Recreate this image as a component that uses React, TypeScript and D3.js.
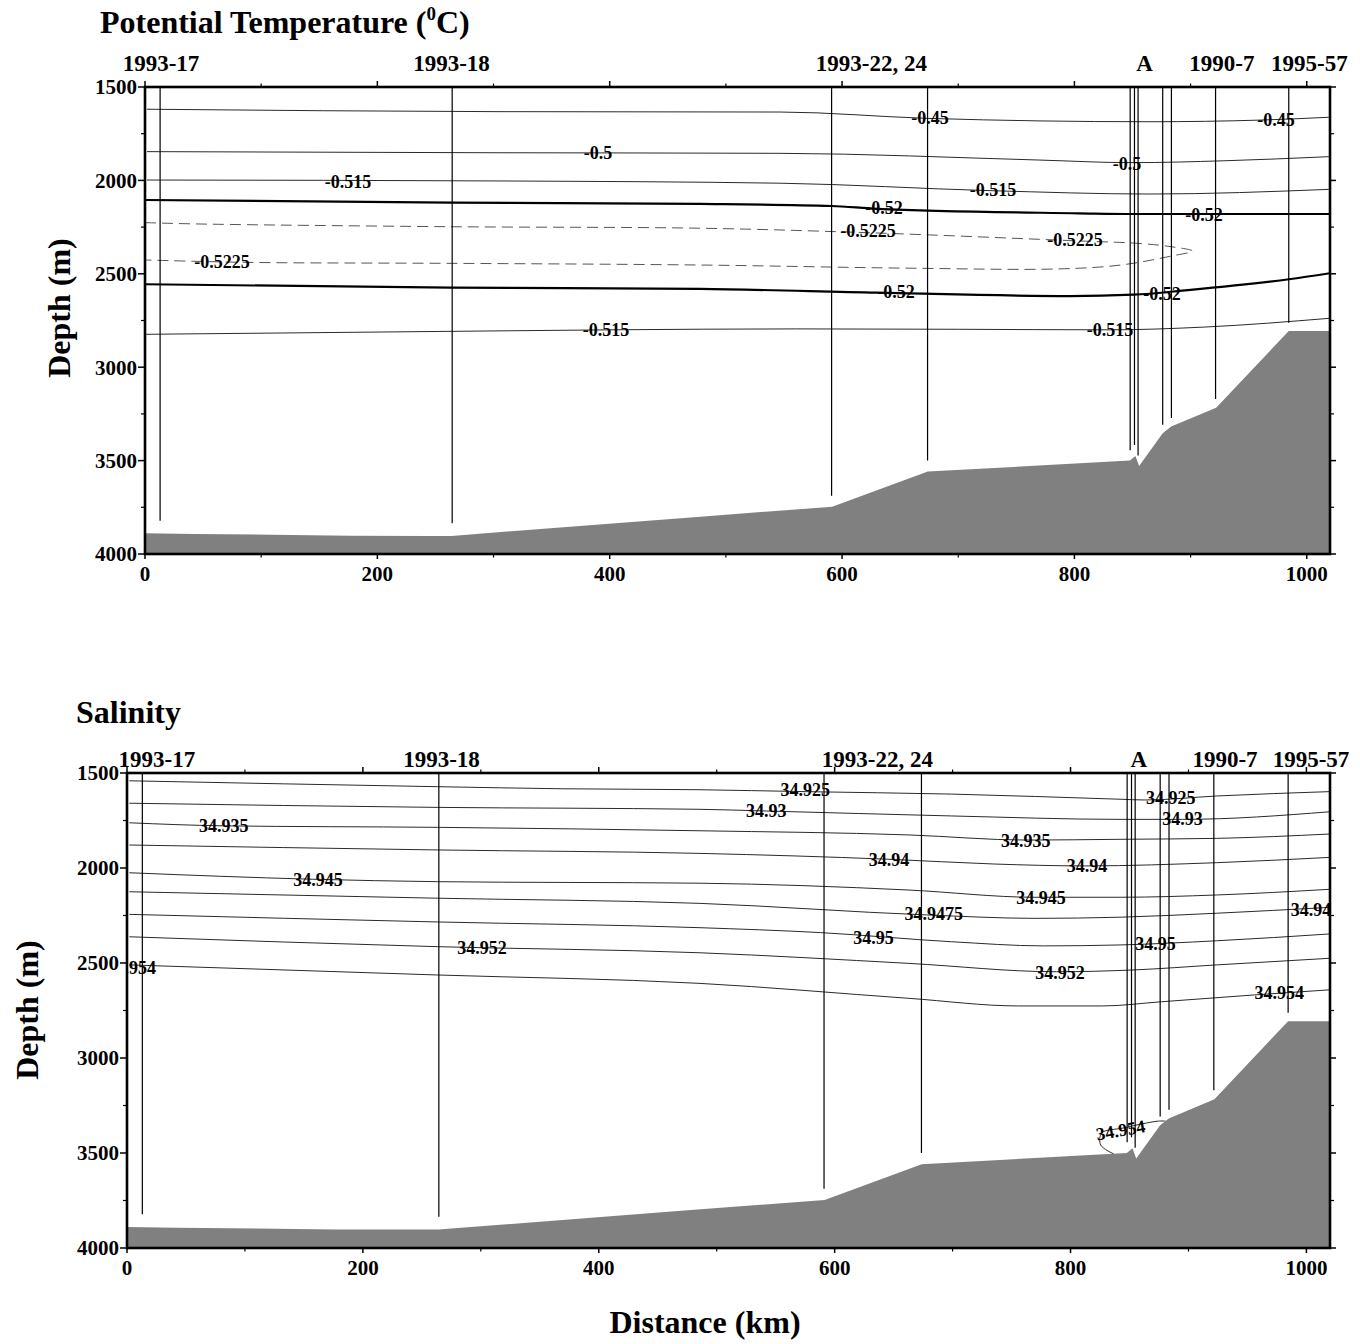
import React from "react";
import * as d3 from "d3";

type Pt = [number, number];

// ---------- shared section data ----------
const stationKm = [13, 264.4, 591, 673.6, 848, 851.7, 854.8, 876, 883.5, 921.5, 984.5];
const stationEnd = [3822, 3835, 3688, 3500, 3444, 3417, 3473, 3308, 3272, 3170, 2762];

const bathyKm = [0, 42, 109, 177, 244, 264, 478, 591.5, 673.8, 847.8, 852.5, 855.7, 876, 883.3, 922, 984.5, 1020];
const bathyDepth = [3889, 3893, 3897, 3902, 3903, 3903, 3800, 3747, 3559, 3500, 3475, 3529, 3354, 3318, 3217, 2806, 2806];

const stationNames = ["1993-17", "1993-18", "1993-22, 24", "A", "1990-7", "1995-57"];
const topNameKm = [13.8, 263.8, 625.3, 860.3, 927, 1002.3];
const botNameKm = [25.4, 266.7, 636.3, 858, 931, 1003.9];

const kmMajor = [0, 200, 400, 600, 800, 1000];
const kmMinor = [100, 300, 500, 700, 900];
const depthMajor = [1500, 2000, 2500, 3000, 3500, 4000];
const depthMinor = [1750, 2250, 2750, 3250, 3750];

// ---------- potential temperature contours ----------
const th045: Pt[] = [[1.7, 1619], [305.6, 1632], [546.6, 1634], [674, 1668], [865, 1686], [960.6, 1677], [1019, 1662]];
const th05: Pt[] = [[1.7, 1846], [305.6, 1852], [546.6, 1855], [769.5, 1891], [848.7, 1905], [928.7, 1895], [1019, 1873]];
const th0515a: Pt[] = [[1.7, 1998], [305.6, 2003], [546.6, 2015], [728.2, 2055], [865, 2073], [1019, 2048]];
const th052a: Pt[] = [[0, 2105], [263.4, 2119], [477.7, 2126], [591, 2137], [629.9, 2152], [803.7, 2176], [850.8, 2180], [1020, 2180]];
const th05225: Pt[] = [[0, 2226], [43.9, 2233], [263.4, 2248], [477.7, 2256], [622.3, 2280], [803.7, 2324], [854.4, 2337], [883.4, 2355], [901.5, 2378], [883.4, 2405], [840, 2453], [785.6, 2474], [658.4, 2470], [477.7, 2453], [263.4, 2444], [90.4, 2439], [0, 2426]];
const th052b: Pt[] = [[0, 2556], [263.4, 2574], [477.7, 2581], [629.9, 2601], [796.3, 2619], [850.8, 2612], [897.7, 2587], [984.7, 2529], [1020, 2497]];
const th0515b: Pt[] = [[0, 2824], [263.4, 2808], [400, 2800], [560, 2795], [700, 2797], [830, 2800], [912.4, 2785], [1020, 2738]];

const thetaLabels = [
  { t: "-0.45", km: 675.7, d: 1666 }, { t: "-0.45", km: 973.5, d: 1677 },
  { t: "-0.5", km: 389.9, d: 1853 }, { t: "-0.5", km: 845.2, d: 1912 },
  { t: "-0.515", km: 174.7, d: 2009 }, { t: "-0.515", km: 729.9, d: 2051 },
  { t: "-0.515", km: 396.8, d: 2801 }, { t: "-0.515", km: 830.6, d: 2801 },
  { t: "-0.52", km: 636.1, d: 2148 }, { t: "-0.52", km: 911.5, d: 2185 },
  { t: "-0.52", km: 646.4, d: 2597 }, { t: "-0.52", km: 875.4, d: 2608 },
  { t: "-0.5225", km: 66.3, d: 2437 }, { t: "-0.5225", km: 622.3, d: 2271 }, { t: "-0.5225", km: 800.5, d: 2319 },
];

// ---------- salinity contours ----------
const s34925: Pt[] = [[2, 1541], [263, 1572], [369, 1583], [485, 1588], [574, 1598], [699, 1611], [842, 1638], [863, 1642], [924, 1621], [1020, 1598]];
const s3493: Pt[] = [[2, 1659], [263, 1681], [485, 1691], [542, 1700], [699, 1726], [842, 1744], [895, 1744], [1020, 1704]];
const s34935: Pt[] = [[2, 1762], [81, 1778], [263, 1786], [485, 1804], [663, 1826], [763, 1853], [842, 1849], [924, 1844], [1020, 1821]];
const s3494: Pt[] = [[2, 1879], [263, 1905], [485, 1923], [646, 1954], [735, 1979], [813, 1989], [924, 1972], [1020, 1944]];
const s34945: Pt[] = [[2, 2025], [157, 2059], [263, 2072], [485, 2080], [663, 2116], [770, 2154], [842, 2154], [924, 2142], [1020, 2112]];
const s349475: Pt[] = [[2, 2125], [263, 2159], [485, 2186], [678, 2247], [770, 2265], [842, 2259], [924, 2238], [1020, 2207]];
const s3495: Pt[] = [[2, 2244], [263, 2284], [485, 2314], [588, 2340], [699, 2388], [777, 2410], [842, 2405], [924, 2383], [1020, 2347]];
const s34952: Pt[] = [[2, 2362], [263, 2414], [485, 2446], [663, 2502], [788, 2546], [852, 2537], [924, 2510], [1020, 2475]];
const s34954: Pt[] = [[2, 2510], [263, 2563], [485, 2607], [663, 2686], [756, 2726], [827, 2726], [877, 2704], [956, 2668], [1020, 2641]];
const s34954b: Pt[] = [[836.6, 3505], [825.6, 3458], [826.4, 3395], [845, 3368], [864.5, 3342], [874.7, 3332], [880.6, 3332]];

const salLabels = [
  { t: "34.925", km: 575, d: 1589 }, { t: "34.925", km: 885, d: 1632 },
  { t: "34.93", km: 542, d: 1700 }, { t: "34.93", km: 895, d: 1743 },
  { t: "34.935", km: 82, d: 1779 }, { t: "34.935", km: 762, d: 1858 },
  { t: "34.94", km: 646, d: 1958 }, { t: "34.94", km: 814, d: 1989 },
  { t: "34.945", km: 162, d: 2063 }, { t: "34.945", km: 775, d: 2155 },
  { t: "34.9475", km: 684, d: 2242 }, { t: "34.9475", km: 1011.5, d: 2221 },
  { t: "34.95", km: 633, d: 2366 }, { t: "34.95", km: 872, d: 2397 },
  { t: "34.952", km: 301, d: 2421 }, { t: "34.952", km: 791, d: 2553 },
  { t: "34.954", km: 3.6, d: 2526 }, { t: "34.954", km: 977, d: 2658 },
  { t: "34.954", km: 842.5, d: 3379, a: -10 },
];

const FONT = "'Liberation Serif', 'Times New Roman', Times, serif";

type Contour = { pts: Pt[]; kind: "thin" | "thick" | "dash"; loop?: boolean };

const thetaContours: Contour[] = [
  { pts: th045, kind: "thin" }, { pts: th05, kind: "thin" }, { pts: th0515a, kind: "thin" },
  { pts: th052a, kind: "thick" }, { pts: th05225, kind: "dash", loop: true }, { pts: th052b, kind: "thick" },
  { pts: th0515b, kind: "thin" },
];
const salContours: Contour[] = [
  ...[s34925, s3493, s34935, s3494, s34945, s349475, s3495, s34952, s34954].map((p) => ({ pts: p, kind: "thin" as const })),
  { pts: s34954b, kind: "thin", loop: true },
];

function Panel(props: {
  id: string; x0: number; x1: number; y0: number; y1: number;
  contours: Contour[]; labels: { t: string; km: number; d: number; a?: number }[];
  nameKm: number[]; nameGap: number;
}) {
  const { id, x0, x1, y0, y1, contours, labels, nameKm, nameGap } = props;
  const xs = d3.scaleLinear().domain([0, 1020]).range([x0, x1]);
  const ys = d3.scaleLinear().domain([1500, 4000]).range([y0, y1]);
  const lineOpen = d3.line<Pt>().x((d) => xs(d[0])).y((d) => ys(d[1])).curve(d3.curveMonotoneX);
  const lineLoop = d3.line<Pt>().x((d) => xs(d[0])).y((d) => ys(d[1])).curve(d3.curveCatmullRom.alpha(0.5));
  const bathy: Pt[] = bathyKm.map((k, i) => [k, bathyDepth[i]]);
  const area = d3.area<Pt>().x((d) => xs(d[0])).y0(ys(4000)).y1((d) => ys(d[1]));
  return (
    <g>
      <defs>
        <clipPath id={id}>
          <rect x={x0} y={y0} width={x1 - x0} height={y1 - y0} />
        </clipPath>
      </defs>
      <g clipPath={`url(#${id})`}>
        {contours.map((c, i) => (
          <path key={i} d={(c.loop ? lineLoop(c.pts) : lineOpen(c.pts)) || ""} fill="none"
            stroke={c.kind === "dash" ? "#555" : c.kind === "thick" ? "#000" : "#2a2a2a"}
            strokeWidth={c.kind === "thick" ? 2.2 : 1}
            strokeDasharray={c.kind === "dash" ? "11,6" : undefined} />
        ))}
        {labels.map((l, i) => (
          <text key={i} x={xs(l.km)} y={ys(l.d)} dy="0.35em" textAnchor="middle"
            fontFamily={FONT} fontWeight="bold" fontSize={18}
            transform={l.a ? `rotate(${l.a},${xs(l.km)},${ys(l.d)})` : undefined}>{l.t}</text>
        ))}
        {stationKm.map((k, i) => (
          <line key={i} x1={xs(k)} x2={xs(k)} y1={y0} y2={ys(stationEnd[i])} stroke="#000" strokeWidth={1.2} />
        ))}
        <path d={area(bathy) || ""} fill="#808080" />
      </g>
      <rect x={x0} y={y0} width={x1 - x0} height={y1 - y0} fill="none" stroke="#000" strokeWidth={2.6} />
      {kmMajor.map((k) => (
        <g key={"M" + k}>
          <line x1={xs(k)} x2={xs(k)} y1={y0} y2={y0 - 6} stroke="#000" strokeWidth={1.5} />
          <line x1={xs(k)} x2={xs(k)} y1={y1} y2={y1 + 5} stroke="#000" strokeWidth={1.5} />
          <text x={xs(k)} y={y1 + 27} textAnchor="middle" fontFamily={FONT} fontWeight="bold" fontSize={21}>{k}</text>
        </g>
      ))}
      {kmMinor.map((k) => (
        <g key={"m" + k}>
          <line x1={xs(k)} x2={xs(k)} y1={y0} y2={y0 - 3.5} stroke="#000" strokeWidth={1.2} />
          <line x1={xs(k)} x2={xs(k)} y1={y1} y2={y1 + 3.5} stroke="#000" strokeWidth={1.2} />
        </g>
      ))}
      {depthMajor.map((d) => (
        <g key={"D" + d}>
          <line x1={x0} x2={x0 - 7} y1={ys(d)} y2={ys(d)} stroke="#000" strokeWidth={1.5} />
          <line x1={x1} x2={x1 + 6} y1={ys(d)} y2={ys(d)} stroke="#000" strokeWidth={1.5} />
          <text x={x0 - 8} y={ys(d)} dy="0.35em" textAnchor="end" fontFamily={FONT} fontWeight="bold" fontSize={21}>{d}</text>
        </g>
      ))}
      {depthMinor.map((d) => (
        <g key={"d" + d}>
          <line x1={x0} x2={x0 - 4} y1={ys(d)} y2={ys(d)} stroke="#000" strokeWidth={1.2} />
          <line x1={x1} x2={x1 + 4} y1={ys(d)} y2={ys(d)} stroke="#000" strokeWidth={1.2} />
        </g>
      ))}
      {stationNames.map((n, i) => (
        <text key={n} x={xs(nameKm[i])} y={y0 - nameGap} textAnchor="middle" fontFamily={FONT} fontWeight="bold" fontSize={23}>{n}</text>
      ))}
    </g>
  );
}

export default function App() {
  return (
    <div style={{ position: "absolute", left: 0, top: 0 }}>
      <svg width={1360} height={1344} viewBox="0 0 1360 1344" style={{ display: "block", background: "#fff" }}>
        <rect x={0} y={0} width={1360} height={1344} fill="#fff" />
        <text x={100} y={33} fontFamily={FONT} fontWeight="bold" fontSize={32}>
          Potential Temperature (<tspan fontSize={19} dy={-13}>0</tspan><tspan dy={13}>C)</tspan>
        </text>
        <text transform="translate(59,308) rotate(-90)" dy="0.35em" textAnchor="middle" fontFamily={FONT} fontWeight="bold" fontSize={32}>Depth (m)</text>
        <Panel id="clipT" x0={145} x1={1330} y0={87} y1={554} contours={thetaContours} labels={thetaLabels} nameKm={topNameKm} nameGap={16} />

        <text x={76} y={723} fontFamily={FONT} fontWeight="bold" fontSize={32}>Salinity</text>
        <text transform="translate(27,1010) rotate(-90)" dy="0.35em" textAnchor="middle" fontFamily={FONT} fontWeight="bold" fontSize={32}>Depth (m)</text>
        <Panel id="clipS" x0={127} x1={1330} y0={773} y1={1248} contours={salContours} labels={salLabels} nameKm={botNameKm} nameGap={6} />

        <text x={705} y={1333} textAnchor="middle" fontFamily={FONT} fontWeight="bold" fontSize={32}>Distance (km)</text>
      </svg>
    </div>
  );
}
